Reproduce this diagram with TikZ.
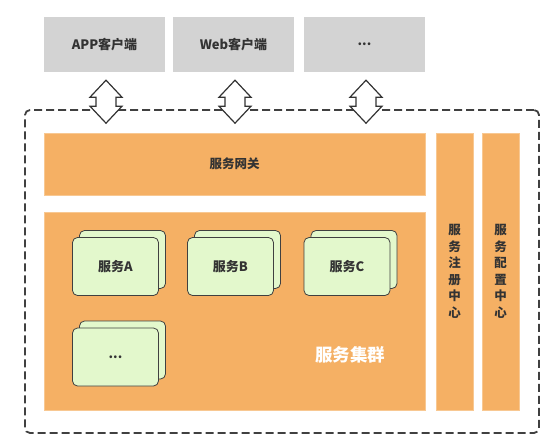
\documentclass[tikz,border=0pt]{standalone}
\usepackage{fontspec}
\setmainfont{Noto Sans CJK SC}
\definecolor{cgray}{HTML}{D3D3D3}
\definecolor{corange}{HTML}{F5B064}
\definecolor{cgreen}{HTML}{E3F8CC}
\definecolor{ctext}{HTML}{333333}
\definecolor{cline}{HTML}{404040}
\begin{document}
\begin{tikzpicture}[x=1pt,y=-1pt,
  client/.style={fill=cgray, draw=none, minimum width=121pt, minimum height=55pt, inner sep=0pt,
    font=\bfseries\fontsize{13}{15}\selectfont, text=ctext},
  orangebox/.style={fill=corange, draw=corange!70!white, line width=0.6pt, inner sep=0pt,
    font=\bfseries\fontsize{12.5}{14}\selectfont, text=ctext},
  card/.style={fill=cgreen, draw=cline, line width=0.8pt, rounded corners=5pt,
    minimum width=86pt, minimum height=58pt, inner sep=0pt,
    font=\bfseries\fontsize{13}{15}\selectfont, text=ctext},
  dbl/.style={draw=ctext, fill=white, line width=1.2pt, line join=miter},
  outerbox/.style={draw=cline, line width=1.8pt, dash pattern=on 8pt off 4pt, rounded corners=5pt,
    minimum width=514pt, minimum height=323pt, inner sep=0pt}
]
\useasboundingbox (0,0) rectangle (554,447);
% clients
\node[client] (c1) at (104.5,44.5) {APP客户端};
\node[client] (c2) at (233.5,44.5) {Web客户端};
\node[client] (c3) at (364.5,44.5) {...};
% outer dashed box
\node[outerbox] (outer) at (282,271.5) {};
% gateway and cluster
\node[orangebox, minimum width=381pt, minimum height=62pt] (gw) at (234.5,164) {服务网关};
\node[orangebox, minimum width=381pt, minimum height=198pt] (cluster) at (234.5,311) {};
\node[text=white, font=\bfseries\fontsize{17.5}{20}\selectfont] (clabel) at (350,355) {服务集群};
% registry / config
\node[orangebox, minimum width=37pt, minimum height=277pt, align=center,
  font=\bfseries\fontsize{12.5}{16.5}\selectfont] (reg) at (454.5,271.5) {服\\务\\注\\册\\中\\心};
\node[orangebox, minimum width=37pt, minimum height=277pt, align=center,
  font=\bfseries\fontsize{12.5}{16.5}\selectfont] (cfg) at (500.5,271.5) {服\\务\\配\\置\\中\\心};
% service cards
\node[card] (aback) at (122.5,259.5) {};
\node[card] (a) at (115.5,266.5) {服务A};
\node[card] (bback) at (237.5,259.5) {};
\node[card] (b) at (230.5,266.5) {服务B};
\node[card] (cback) at (354,259.5) {};
\node[card] (c) at (347,266.5) {服务C};
\node[card] (dback) at (122.5,350) {};
\node[card] (d) at (115.5,357) {...};
% double arrows
\foreach \n in {c1,c2,c3}{
  \path (\n.south) ++(1.5,8) coordinate (\n-tip);
  \draw[dbl] (\n-tip) -- ++(16,17) -- ++(-6,0) -- ++(0,9) -- ++(6,0) -- ++(-16,17)
    -- ++(-16,-17) -- ++(6,0) -- ++(0,-9) -- ++(-6,0) -- cycle;
}
\end{tikzpicture}
\end{document}
